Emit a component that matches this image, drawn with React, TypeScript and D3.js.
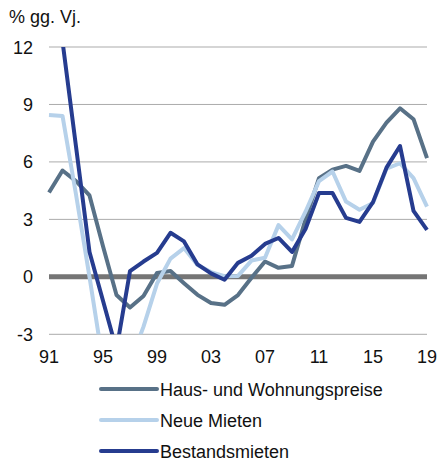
import React from "react";
import * as d3 from "d3";

const years: number[] = d3.range(1991, 2020);
const haus: number[] = [4.4, 5.55, 5.0, 4.25, 1.6, -0.95, -1.6, -1.0, 0.2, 0.3, -0.33, -0.94, -1.37, -1.46, -0.95, -0.05, 0.8, 0.47, 0.57, 3.0, 5.15, 5.6, 5.79, 5.53, 7.06, 8.05, 8.8, 8.23, 6.2];
const neue: number[] = [8.45, 8.4, 4.3, 0.0, -4.5, -5.0, -4.5, -2.6, -0.35, 0.95, 1.5, 0.62, 0.25, 0.03, 0.05, 0.85, 1.0, 2.7, 1.95, 3.4, 5.0, 5.5, 3.93, 3.5, 3.86, 5.65, 5.93, 5.15, 3.67];
const bestand: number[] = [13.0, 12.3, 6.8, 1.3, -1.25, -3.8, 0.3, 0.8, 1.25, 2.3, 1.85, 0.65, 0.18, -0.15, 0.73, 1.1, 1.72, 2.03, 1.3, 2.5, 4.38, 4.38, 3.08, 2.87, 3.9, 5.7, 6.83, 3.44, 2.45];

const seriesNames: string[] = ["Haus- und Wohnungspreise", "Neue Mieten", "Bestandsmieten"];
const seriesColors: string[] = ["#587187", "#b6d1ea", "#263c8f"];
const yTicks: number[] = [-3, 0, 3, 6, 9, 12];
const xTickYears: number[] = [1991, 1995, 1999, 2003, 2007, 2011, 2015, 2019];
const unitLabel = "% gg. Vj.";

export default function App() {
  const x = d3.scaleLinear().domain([1991, 2019]).range([49, 427]);
  const y = d3.scaleLinear().domain([-3, 12]).range([334.3, 47]);
  const font = "'Liberation Sans', Arial, sans-serif";
  const allSeries = [haus, neue, bestand];
  const line = (vals: number[]) =>
    d3.line<number>().x((_, i) => x(years[i])).y((v) => y(v))(vals) || "";

  return (
    <svg width={438} height={462} style={{ position: "absolute", left: 0, top: 0, background: "#fff" }} fontFamily={font}>
      <defs>
        <clipPath id="plotclip">
          <rect x={40} y={y(12)} width={400} height={y(-3) - y(12)} />
        </clipPath>
      </defs>
      <text x={9} y={23} fontSize={18} fill="#111">{unitLabel}</text>
      {yTicks.filter((t) => t !== 0).map((t) => (
        <line key={t} x1={x(1991)} x2={x(2019)} y1={y(t)} y2={y(t)} stroke="#ababab" strokeWidth={1} />
      ))}
      <line x1={x(1991)} x2={x(2019)} y1={y(0)} y2={y(0)} stroke="#757575" strokeWidth={5} />
      {yTicks.map((t) => (
        <text key={t} x={33} y={y(t) + 6.5} fontSize={18} textAnchor="end" fill="#111">{t}</text>
      ))}
      {xTickYears.map((yr) => (
        <text key={yr} x={x(yr)} y={362.5} fontSize={18} textAnchor="middle" fill="#111">
          {String(yr).slice(2)}
        </text>
      ))}
      <g clipPath="url(#plotclip)">
        {allSeries.map((s, i) => (
          <path key={i} d={line(s)} fill="none" stroke={seriesColors[i]} strokeWidth={4} strokeLinejoin="round" />
        ))}
      </g>
      {seriesNames.map((n, i) => (
        <g key={n}>
          <line x1={101} x2={157} y1={389 + i * 31} y2={389 + i * 31} stroke={seriesColors[i]} strokeWidth={4} strokeLinecap="round" />
          <text x={160} y={389 + i * 31 + 6.5} fontSize={18} fill="#111">{n}</text>
        </g>
      ))}
    </svg>
  );
}
